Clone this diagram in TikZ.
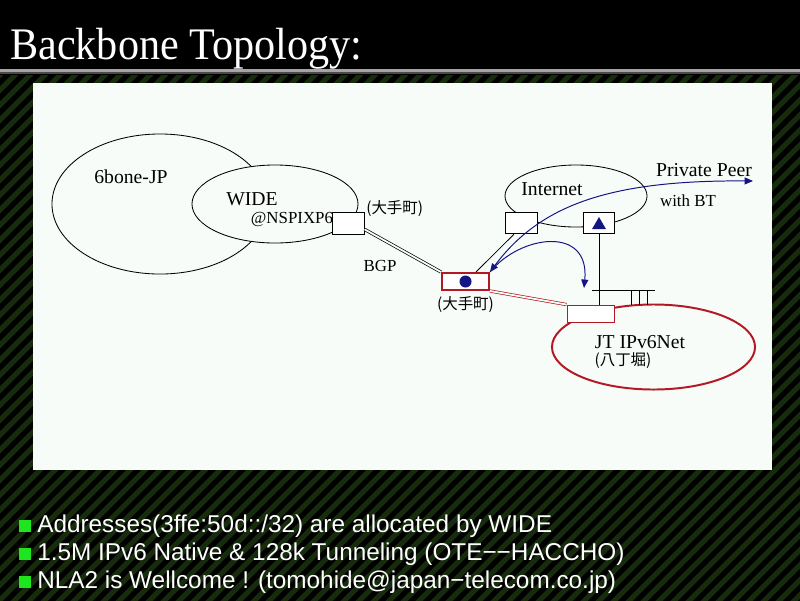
\documentclass[tikz,border=0pt]{standalone}
\usepackage{fontspec}
\setmainfont{Liberation Serif}
\setsansfont{Liberation Sans}
\newfontfamily\jpfont{Noto Sans CJK JP}
\usetikzlibrary{arrows.meta, positioning, shapes.geometric}
\definecolor{panelWhite}{RGB}{248, 252, 248}
\definecolor{stripeGreen}{RGB}{22, 44, 12}
\definecolor{linkNavy}{RGB}{20, 20, 130}
\definecolor{jtRed}{RGB}{180, 25, 35}
\definecolor{bulletGreen}{RGB}{30, 230, 30}
\definecolor{barGray}{RGB}{165, 165, 165}

\begin{document}
\begin{tikzpicture}[
    x=0.025cm, y=-0.025cm,
    cloud/.style={ellipse, draw=black, line width=0.6pt, inner sep=0pt},
    router/.style={
      rectangle, draw=black, fill=white, line width=0.6pt, inner sep=0pt,
      minimum width=0.78cm, minimum height=0.54cm
    },
    jtrouter/.style={router, draw=jtRed, minimum width=1.175cm, minimum height=0.425cm},
    tag/.style={font=\fontsize{14}{16}\selectfont, inner sep=0pt},
    smalltag/.style={font=\fontsize{12}{14}\selectfont, inner sep=0pt},
    jptag/.style={font=\jpfont\fontsize{11}{13}\selectfont, inner sep=0pt},
    link/.style={double=panelWhite, double distance=1.3pt, line width=0.5pt},
    peerlink/.style={linkNavy, line width=0.7pt},
    tip/.style={-{Triangle[length=6pt, width=5pt]}},
    bullet/.style={rectangle, fill=bulletGreen, minimum size=0.29cm, inner sep=0pt},
    point/.style={anchor=base west, text=white, inner sep=0pt,
      font=\sffamily\fontsize{17.3}{20}\selectfont},
    stripe/.style={stripeGreen, line width=3.7pt},
  ]
    \useasboundingbox (0,0) rectangle (800,600);
    \fill[black] (-10,-10) rectangle (810,610);
    % Background stripes
    \begin{scope}
      \clip (-10,75) rectangle (810,610);
      \foreach \i in {-630,-615,...,810} {
        \draw[stripe] (\i,630) -- (\i+640,-10);
      }
    \end{scope}
    \fill[black] (-10,-10) rectangle (810,68);
    \fill[barGray] (-10,68.5) rectangle (810,72);
    \fill[barGray!45!black] (-10,72) rectangle (810,74);

    \node[anchor=base west, text=white, inner sep=0pt, yscale=1.07,
      font=\fontsize{30}{34}\selectfont] (title) at (10,59) {Backbone Topology:};

    % Panel
    \fill[panelWhite] (33,83) rectangle (772,470);

    % Clouds
    \node[cloud, minimum width=5.4cm, minimum height=3.5cm] (sixbone) at (160,204) {};
    \node[cloud, fill=panelWhite, minimum width=4.15cm, minimum height=1.95cm] (wide) at (275,204) {};
    \node[cloud, minimum width=3.55cm, minimum height=1.55cm] (internet) at (576,196) {};
    \node[cloud, draw=jtRed, line width=1.4pt, minimum width=5.075cm, minimum height=2.125cm] (jtnet) at (653.5,347) {};

    % Routers
    \node[router] (nspbox) at (348.5,223.5) {};
    \node[router] (inetbox) at (521.5,223) {};
    \node[router] (peerbox) at (599,223) {};
    \node[jtrouter, line width=1.4pt] (otebox) at (465.5,281.5) {};
    \node[jtrouter] (jtbox) at (590.5,313.5) {};
    \fill[linkNavy] (otebox) circle (6);
    \node[regular polygon, regular polygon sides=3, fill=linkNavy, inner sep=0pt,
      minimum size=0.4cm] (tri) at (599,225) {};

    % Links
    \draw[link] (nspbox.-20) -- (otebox.north west);
    \draw[link, draw=jtRed] (otebox.south east) -- (jtbox.north west);
    \draw[line width=0.6pt] (inetbox.236) -- (otebox.42);
    \draw[line width=0.6pt] (peerbox.south) -- (peerbox.south |- jtbox.north);
    \coordinate (busL) at (592,290);
    \coordinate (busR) at (655,290);
    \draw[line width=0.6pt] (busL) -- (busR);
    \foreach \x in {631,639,647} {
      \draw[line width=0.6pt] (\x,290) -- (\x,305);
    }

    % Peering arrows
    \coordinate (peer) at (753,181);
    \coordinate (drop) at (584,288);
    \draw[peerlink, {Triangle[length=6pt, width=5pt]}-{Triangle[length=6pt, width=5pt]}]
      (otebox.north east) .. controls (540,205) and (610,180) .. (peer);
    \draw[peerlink, tip] (otebox.north east) .. controls (520,235) and (590,225) .. (drop);

    % Labels
    \node[tag] (l6bone) at (131,177) {6bone-JP};
    \node[tag] (lwide) at (252,199) {WIDE};
    \node[smalltag] (lnsp) at (292,219) {@NSPIXP6};
    \node[jptag, anchor=west] (lnspjp) at (366,209) {(大手町)};
    \node[smalltag] (lbgp) at (380,266) {BGP};
    \node[jptag, below=4pt of otebox] (lotejp) {(大手町)};
    \node[tag] (linet) at (552,189) {Internet};
    \node[tag] (lpeer) at (704,170) {Private Peer};
    \node[smalltag] (lbt) at (688,201) {with BT};
    \node[tag] (ljt) at (640,342) {JT IPv6Net};
    \node[jptag] (ljtjp) at (623,361) {(八丁堀)};

    % Bullets
    \foreach \k in {1,2,3} {
      \node[bullet] (sq\k) at (25,498+28*\k) {};
    }
    \node[point] (p1) at (37,532) {Addresses(3ffe:50d::/32) are allocated by WIDE};
    \node[point] (p2) at (37,560) {1.5M IPv6 Native \& 128k Tunneling (OTE−−HACCHO)};
    \node[point] (p3) at (37,588) {NLA2 is Wellcome ! (tomohide@japan−telecom.co.jp)};
  \end{tikzpicture}
\end{document}
